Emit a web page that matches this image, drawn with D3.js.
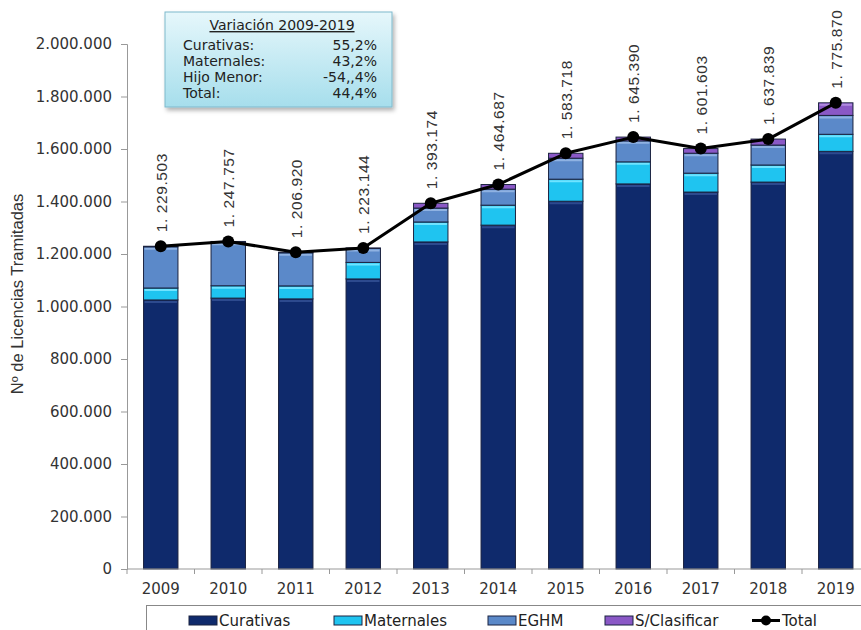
<!DOCTYPE html>
<html>
<head>
<meta charset="utf-8">
<script src="https://cdn.jsdelivr.net/npm/d3@7"></script>
<style>
  html, body { margin: 0; padding: 0; background: #fff; }
  svg { display: block; }
</style>
</head>
<body>
<svg id="chart" width="861" height="630"></svg>
<script>
// ---- DATA ----
const years = ["2009","2010","2011","2012","2013","2014","2015","2016","2017","2018","2019"];
const curativas   = [1025000,1032000,1029000,1105000,1246000,1310000,1401000,1467000,1436000,1474000,1591000];
const maternales  = [45500,47000,49500,63000,76000,76000,84000,84000,72000,65000,65000];
const eghm        = [157000,166000,126000,53000,53000,61000,80000,80000,76000,76000,72000];
const sClasificar = [2000,2800,2400,2100,18200,17700,18700,14400,17600,22800,47900];
const totals      = [1229503,1247757,1206920,1223144,1393174,1464687,1583718,1645390,1601603,1637839,1775870];
const totalLabels = ["1. 229.503","1. 247.757","1. 206.920","1. 223.144","1. 393.174","1. 464.687","1. 583.718","1. 645.390","1. 601.603","1. 637.839","1. 775.870"];
const yTicks = [0,200000,400000,600000,800000,1000000,1200000,1400000,1600000,1800000,2000000];
const seriesNames = ["Curativas","Maternales","EGHM","S/Clasificar"];
const seriesValues = [curativas, maternales, eghm, sClasificar];
const variationTitle = "Variación 2009-2019";
const variationRows = [["Curativas:","55,2%"],["Maternales:","43,2%"],["Hijo Menor:","-54,,4%"],["Total:","44,4%"]];

// ---- STYLES ----
const colors = ["#0f2a6c","#1fc4f0","#5b89c9","#8a58c6"];
const svg = d3.select("#chart");
const fmt = d3.formatLocale({decimal: ",", thousands: ".", grouping: [3], currency: ["",""]}).format(",d");

const plot = {left: 127, right: 869.5, top: 44, bottom: 569};
const x = d3.scaleBand().domain(years).range([plot.left, plot.right]).paddingInner(0.49).paddingOuter(0.245);
const y = d3.scaleLinear().domain([0, 2000000]).range([plot.bottom, plot.top]);

// defs: gradient for variation box, shadow
const defs = svg.append("defs");
const g1 = defs.append("linearGradient").attr("id","boxGrad").attr("x1",0).attr("y1",0).attr("x2",0).attr("y2",1);
g1.append("stop").attr("offset","0%").attr("stop-color","#e6f7fb");
g1.append("stop").attr("offset","100%").attr("stop-color","#a6deec");
const f = defs.append("filter").attr("id","shadow").attr("x","-10%").attr("y","-10%").attr("width","130%").attr("height","140%");
f.append("feDropShadow").attr("dx",2).attr("dy",3).attr("stdDeviation",2).attr("flood-color","#000").attr("flood-opacity",0.3);

// ---- stacked bars ----
const table = years.map((yr, i) => {
  const o = {year: yr};
  seriesNames.forEach((n, k) => o[n] = seriesValues[k][i]);
  return o;
});
const stack = d3.stack().keys(seriesNames)(table);
const layers = svg.append("g").selectAll("g").data(stack).join("g")
  .attr("fill", (d, k) => colors[k]);
layers.selectAll("rect").data(d => d).join("rect")
  .attr("x", d => x(d.data.year))
  .attr("width", x.bandwidth())
  .attr("y", d => y(d[1]))
  .attr("height", d => Math.max(0, y(d[0]) - y(d[1])))
  .attr("stroke", "#1b2340")
  .attr("stroke-width", 1);
// subtle highlight line at top of each segment
layers.each(function(d, k) {
  const hl = ["#2d4a8e","#6fe3ff","#8fb2e2","#b08ae0"][k];
  d3.select(this).selectAll("line.hl").data(d).join("line")
    .attr("class","hl")
    .attr("x1", dd => x(dd.data.year) + 1)
    .attr("x2", dd => x(dd.data.year) + x.bandwidth() - 1)
    .attr("y1", dd => y(dd[1]) + 2)
    .attr("y2", dd => y(dd[1]) + 2)
    .attr("stroke", hl)
    .attr("stroke-width", dd => (y(dd[0]) - y(dd[1])) > 6 ? 2 : 0);
});

// ---- axes ----
const yAxis = svg.append("g").attr("transform", `translate(${plot.left},0)`)
  .call(d3.axisLeft(y).tickValues(yTicks).tickFormat(fmt).tickSize(6).tickPadding(9));
yAxis.select(".domain").attr("stroke","#999");
yAxis.selectAll(".tick line").attr("stroke","#999");
yAxis.selectAll("text").attr("font-family","DejaVu Sans").attr("font-size","15px").attr("fill","#333");

const xAxis = svg.append("g").attr("transform", `translate(0,${plot.bottom})`)
  .call(d3.axisBottom(x).tickSize(0).tickPadding(14));
xAxis.select(".domain").attr("stroke","#999").attr("d", `M${plot.left},0H${plot.right}`);
xAxis.selectAll("text").attr("font-family","DejaVu Sans").attr("font-size","15px").attr("fill","#333");
// separators between categories
svg.append("g").selectAll("line").data(years).join("line")
  .attr("x1", d => x(d) - (x.step() - x.bandwidth()) / 2)
  .attr("x2", d => x(d) - (x.step() - x.bandwidth()) / 2)
  .attr("y1", plot.bottom).attr("y2", plot.bottom + 5)
  .attr("stroke","#999");

// y title
svg.append("text")
  .attr("transform", `translate(23,294) rotate(-90)`)
  .attr("text-anchor","middle")
  .attr("font-family","Liberation Sans, Arial")
  .attr("font-size","16.5px")
  .attr("fill","#333")
  .text("Nº de Licencias Tramitadas");

// ---- total line ----
const cx = d => x(d) + x.bandwidth() / 2;
const line = d3.line().x((d, i) => cx(years[i])).y(d => y(d));
svg.append("path").datum(totals).attr("d", line)
  .attr("fill","none").attr("stroke","#000").attr("stroke-width",3).attr("stroke-linejoin","round");
svg.append("g").selectAll("circle").data(totals).join("circle")
  .attr("cx", (d, i) => cx(years[i])).attr("cy", d => y(d)).attr("r", 6).attr("fill","#000");

// total labels
svg.append("g").selectAll("text").data(totals).join("text")
  .attr("transform", (d, i) => `translate(${cx(years[i]) + 6},${y(d) - 14}) rotate(-90)`)
  .attr("font-family","Liberation Sans, Arial")
  .attr("font-size","15.5px")
  .attr("letter-spacing","0.6px")
  .attr("fill","#333")
  .text((d, i) => totalLabels[i]);

// ---- variation box ----
const vb = svg.append("g");
vb.append("rect").attr("x",165).attr("y",12).attr("width",227).attr("height",95)
  .attr("fill","url(#boxGrad)").attr("stroke","#7fb9cc").attr("stroke-width",1).attr("filter","url(#shadow)");
vb.append("text").attr("x",282).attr("y",30).attr("text-anchor","middle")
  .attr("font-family","DejaVu Sans").attr("font-size","14px").attr("fill","#222")
  .attr("text-decoration","underline").text(variationTitle);
variationRows.forEach((r, i) => {
  const by = 50 + i * 16;
  vb.append("text").attr("x",183).attr("y",by)
    .attr("font-family","DejaVu Sans").attr("font-size","14px").attr("fill","#222").text(r[0]);
  vb.append("text").attr("x",377).attr("y",by).attr("text-anchor","end")
    .attr("font-family","DejaVu Sans").attr("font-size","14px").attr("fill","#222").text(r[1]);
});

// ---- legend ----
const lg = svg.append("g");
lg.append("rect").attr("x",146.5).attr("y",605.5).attr("width",730).attr("height",40)
  .attr("fill","#fff").attr("stroke","#888");
const legendX = [189, 334, 488, 605];
seriesNames.forEach((n, k) => {
  lg.append("rect").attr("x",legendX[k]).attr("y",616).attr("width",28).attr("height",9)
    .attr("fill",colors[k]).attr("stroke","#1b2340");
  lg.append("text").attr("x",legendX[k] + 30).attr("y",626)
    .attr("font-family","DejaVu Sans").attr("font-size","15px").attr("fill","#222").text(n);
});
lg.append("line").attr("x1",752).attr("x2",780).attr("y1",620.5).attr("y2",620.5).attr("stroke","#000").attr("stroke-width",3);
lg.append("circle").attr("cx",766).attr("cy",620.5).attr("r",5).attr("fill","#000");
lg.append("text").attr("x",782).attr("y",626)
  .attr("font-family","DejaVu Sans").attr("font-size","15px").attr("fill","#222").text("Total");
</script>
</body>
</html>
